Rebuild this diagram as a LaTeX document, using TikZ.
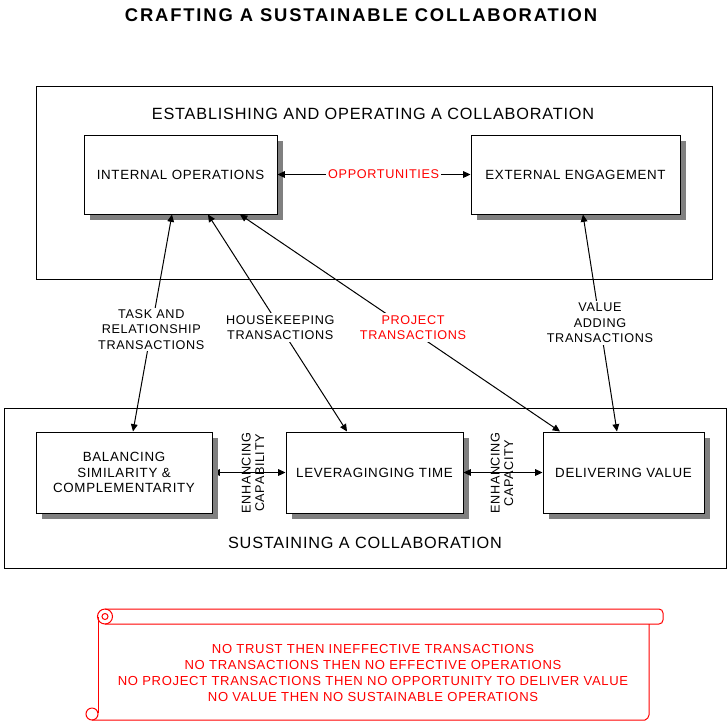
\documentclass[tikz,border=0pt]{standalone}
\usepackage{fontspec}
\setmainfont{Liberation Sans}[LetterSpace=5]
\usetikzlibrary{shadows,arrows.meta,backgrounds}

\tikzset{
  opbox/.style={draw, fill=white, line width=0.75pt, align=center,
    font=\fontsize{10}{11.6}\selectfont,
    drop shadow={shadow xshift=4.5pt, shadow yshift=-4.5pt, fill=black!50, opacity=1}},
  frame/.style={draw, line width=0.75pt},
  link/.style={line width=0.75pt,
    {Triangle[length=5.5pt,width=5pt]}-{Triangle[length=5.5pt,width=5pt]}},
  tag/.style={fill=white, align=center, inner sep=1.5pt,
    font=\fontsize{9.5}{11.5}\selectfont},
  side/.style={rotate=90, align=center, font=\fontsize{9.5}{10}\selectfont},
  scroll/.style={draw=red, line width=0.75pt},
}

\begin{document}
\begin{tikzpicture}[x=0.75pt, y=-0.75pt]
  \useasboundingbox (0,0) rectangle (728,722);

  \node[font=\bfseries\addfontfeatures{LetterSpace=10}\fontsize{13.8}{16}\selectfont] (title) at (361,15)
    {CRAFTING A SUSTAINABLE COLLABORATION};

  % establishing
  \draw[frame] (36,86) rectangle (712,279);
  \node[font=\fontsize{12.2}{14}\selectfont] (est) at (373,114)
    {ESTABLISHING AND OPERATING A COLLABORATION};
  \node[opbox, minimum width=144.75pt, minimum height=59.25pt] (io) at (180.5,174.5)
    {INTERNAL OPERATIONS};
  \node[opbox, minimum width=156.75pt, minimum height=59.25pt] (ee) at (575.5,174.5)
    {EXTERNAL ENGAGEMENT};
  \draw[link] (io.east) -- node[tag, pos=0.55, text=red] {OPPORTUNITIES} (ee.west);

  % sustaining
  \draw[frame] (4,408) rectangle (726,568);
  \node[font=\fontsize{12.2}{14}\selectfont] (sus) at (365,543)
    {SUSTAINING A COLLABORATION};
  \node[opbox, minimum width=132pt, minimum height=60.75pt] (bal) at (124,472.5)
    {BALANCING\\SIMILARITY \&\\COMPLEMENTARITY};
  \node[opbox, minimum width=132.75pt, minimum height=60.75pt] (lev) at (374.5,472.5)
    {LEVERAGINGING TIME};
  \node[opbox, minimum width=120.75pt, minimum height=60.75pt] (dv) at (623.5,472.5)
    {DELIVERING VALUE};
  \begin{pgfonlayer}{background}
    \draw[link] (bal.east) -- (lev.west);
  \end{pgfonlayer}
  \draw[link] (lev.east) -- (dv.west);
  \node[side] (capab) at (253,473) {ENHANCING\\CAPABILITY};
  \node[side] (capac) at (502,473) {ENHANCING\\CAPACITY};

  % transactions
  \draw[link] ([xshift=-6.4pt]io.south) --
    node[tag, pos=0.53] {TASK AND\\RELATIONSHIP\\TRANSACTIONS} ([xshift=6.75pt]bal.north);
  \draw[link] ([xshift=20.6pt]io.south) --
    node[tag, pos=0.52] {HOUSEKEEPING\\TRANSACTIONS} ([xshift=-20.6pt]lev.north);
  \draw[link] ([xshift=44.6pt]io.south) --
    node[tag, pos=0.52, xshift=5pt, text=red] {PROJECT\\TRANSACTIONS} ([xshift=-47.6pt]dv.north);
  \draw[link] ([xshift=5.6pt]ee.south) --
    node[tag, pos=0.5] {VALUE\\ADDING\\TRANSACTIONS} ([xshift=-4.9pt]dv.north);

  % scroll
  \draw[scroll, rounded corners=3] (105,609) -- (663,609) -- (663,624) -- (105,624);
  \draw[scroll] (105,616.5) circle (7.5);
  \draw[scroll] (105,616.5) circle (3);
  \draw[scroll] (98,616.5) -- (98,713);
  \draw[scroll] (92,714) circle (6);
  \draw[scroll] (92,714) ++(0,6) -- (645,720) to[bend right=30] (649,715) -- (649,624);
  \node[text=red, align=center, font=\fontsize{9.8}{12}\selectfont] (rules) at (373,673)
    {NO TRUST THEN INEFFECTIVE TRANSACTIONS\\
     NO TRANSACTIONS THEN NO EFFECTIVE OPERATIONS\\
     NO PROJECT TRANSACTIONS THEN NO OPPORTUNITY TO DELIVER VALUE\\
     NO VALUE THEN NO SUSTAINABLE OPERATIONS};
\end{tikzpicture}
\end{document}
